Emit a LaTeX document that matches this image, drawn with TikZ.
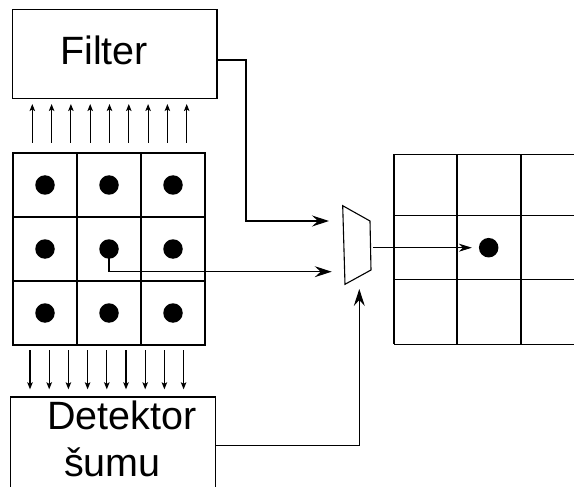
\documentclass[tikz,border=0pt]{standalone}
\usepackage{fontspec}
\setmainfont{Liberation Sans}
\usetikzlibrary{arrows.meta}
\begin{document}
\begin{tikzpicture}[x=1pt,y=-1pt,line width=1.1pt,
  cell/.style={draw,minimum width=64pt,minimum height=64pt,inner sep=0pt},
  dot/.style={circle,fill,inner sep=0pt,minimum size=19.5pt},
  smallarr/.style={-{Stealth[length=7pt,width=5.5pt,inset=1.5pt]}},
  bigarr/.style={-{Stealth[length=17pt,width=11pt,inset=6pt]}},
  midarr/.style={-{Stealth[length=13pt,width=8pt,inset=4pt]}},
  lbl/.style={font=\fontsize{39.5}{47}\selectfont,anchor=base,inner sep=0pt}]
\useasboundingbox (0,0) rectangle (574,487);
% Filter box
\node[draw,minimum width=204.7pt,minimum height=89pt,inner sep=0pt] (filter) at (114.65,54.2) {};
\node[lbl] (ftext) at (104,64.3) {Filter};
% left grid
\foreach \r/\y in {1/185,2/249,3/313}{
  \foreach \c/\x in {1/45,2/109,3/173}{
    \node[cell] (c\r\c) at (\x,\y) {};
    \node[dot] (d\r\c) at (\x,\y) {};
  }
}
% arrows up to filter
\foreach \i in {0,...,8}{
  \coordinate (ua\i) at (32.3+19.3*\i,143);
  \coordinate (ub\i) at (32.3+19.3*\i,104);
  \draw[smallarr] (ua\i) -- (ub\i);
}
% arrows down to detector
\foreach \i in {0,...,8}{
  \coordinate (da\i) at (30+19.2*\i,350);
  \coordinate (db\i) at (30+19.2*\i,389.3);
  \draw[smallarr] (da\i) -- (db\i);
}
% Detektor box (continues past bottom)
\node[minimum width=204pt,minimum height=90pt,inner sep=0pt,anchor=north west] (det) at (10.3,397) {};
\draw (det.south west) -- (det.north west) -- (det.north east) -- (det.south east);
\node[lbl] (dtext1) at (122,429) {Detektor};
\node[lbl] (dtext2) at (112.5,476.7) {šumu};
% multiplexer
\coordinate (m1) at (342.7,205.7);
\coordinate (m2) at (370,221);
\coordinate (m3) at (371,270);
\coordinate (m4) at (345,284.3);
\draw (m1) -- (m2) -- (m3) -- (m4) -- cycle;
\coordinate (in1) at (329,221);
\coordinate (in2) at (331.7,271.7);
\coordinate (in3) at (359.3,289);
\coordinate (out) at (373.3,247.7);
% connectors
\draw[bigarr] ([yshift=-5.8pt]filter.east) -| (246,221) -- (in1);
\draw[bigarr] (d22.center) |- (in2);
\draw[bigarr] (det.east |- 0,445.7) -| (in3);
% right grid
\foreach \x in {394,457,521}{ \draw (\x,154.3) -- (\x,344.3); }
\foreach \y in {154.3,215.3,279.3,344.3}{ \draw (394,\y) -- (574,\y); }
\node[dot] (rdot) at (488.7,247.7) {};
\draw[midarr,shorten >=6.5pt] (out) -- (rdot);
\end{tikzpicture}
\end{document}
